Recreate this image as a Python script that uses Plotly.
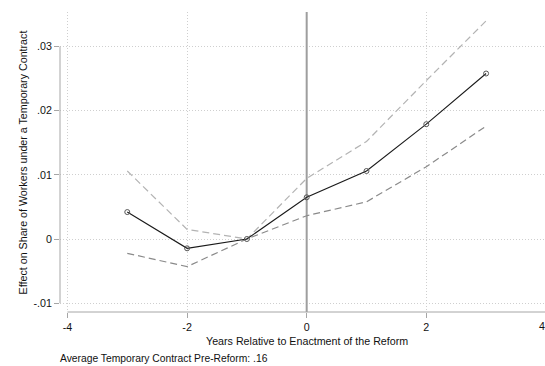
import plotly.graph_objects as go

# Event-study estimates: years relative to reform enactment
years = [-3, -2, -1, 0, 1, 2, 3]
effect = [0.0042, -0.00145, 0.0, 0.0065, 0.0106, 0.0179, 0.0258]
ci_upper = [0.0106, 0.0015, 0.0, 0.00945, 0.0152, 0.0247, 0.0340]
ci_lower = [-0.00223, -0.0043, 0.0, 0.00363, 0.0058, 0.01126, 0.0176]

x_ticks = [-4, -2, 0, 2, 4]
y_ticks = [-0.01, 0, 0.01, 0.02, 0.03]
y_tick_labels = ["-.01", "0", ".01", ".02", ".03"]

X_RANGE = [-4.125, 3.985]
Y_RANGE = [-0.01138, 0.03539]
REFORM_YEAR = 0

FONT = "Liberation Sans, Arial, sans-serif"
GRID = "#cfcfcf"
AXIS = "#a6a6a6"
TXT = dict(family=FONT, size=10.7, color="#111111")

fig = go.Figure()

# Reform enactment line, drawn first so the estimates sit on top of it
fig.add_trace(go.Scatter(
    x=[REFORM_YEAR, REFORM_YEAR], y=Y_RANGE, mode="lines",
    line=dict(color="#9e9e9e", width=2),
    showlegend=False, hoverinfo="skip", cliponaxis=True))

fig.add_trace(go.Scatter(
    x=years, y=ci_upper, mode="lines",
    line=dict(color="#b3b3b3", width=1.2, dash="7px,4px"),
    showlegend=False, hoverinfo="skip"))
fig.add_trace(go.Scatter(
    x=years, y=ci_lower, mode="lines",
    line=dict(color="#8a8a8a", width=1.2, dash="7px,4px"),
    showlegend=False, hoverinfo="skip"))
fig.add_trace(go.Scatter(
    x=years, y=effect, mode="lines+markers",
    line=dict(color="#1a1a1a", width=1.1),
    marker=dict(symbol="circle-open", size=5, color="#555555",
                line=dict(width=1, color="#555555")),
    showlegend=False))

# Axis lines spanning the tick range
fig.add_shape(type="line", xref="paper", yref="y", x0=0, x1=0,
              y0=y_ticks[0], y1=y_ticks[-1], line=dict(color=AXIS, width=1))
fig.add_shape(type="line", xref="x", yref="paper", x0=x_ticks[0], x1=x_ticks[-1],
              y0=0, y1=0, line=dict(color=AXIS, width=1))

# Tick label at the right end of the x range (sits past the plotted range)
fig.add_annotation(x=1.0035, y=0, xref="paper", yref="paper", yshift=-6,
                   yanchor="top", text="4", showarrow=False, font=TXT)

fig.add_annotation(x=0, xref="x", y=-0.095, yref="paper", yanchor="middle",
                   text="Years Relative to Enactment of the Reform",
                   showarrow=False, font=TXT)
fig.add_annotation(x=-0.092, xref="paper", y=0.50, yref="paper",
                   text="Effect on Share of Workers under a Temporary Contract",
                   textangle=-90, showarrow=False, font=TXT)
fig.add_annotation(x=-0.005, xref="paper", xanchor="left", y=-0.155, yref="paper",
                   yanchor="middle",
                   text="Average Temporary Contract Pre-Reform: .16",
                   showarrow=False, font=dict(family=FONT, size=10.3, color="#111111"))

fig.update_layout(
    width=545, height=366,
    margin=dict(l=60, r=0, t=12, b=54),
    paper_bgcolor="white", plot_bgcolor="white",
    font=TXT,
    xaxis=dict(range=X_RANGE, tickvals=x_ticks,
               ticktext=[str(v) for v in x_ticks],
               showgrid=True, gridcolor=GRID, griddash="1px,2px", gridwidth=1,
               zeroline=False, showline=False,
               ticks="outside", ticklen=5, tickcolor=AXIS),
    yaxis=dict(range=Y_RANGE, tickvals=y_ticks,
               ticktext=y_tick_labels,
               showgrid=True, gridcolor=GRID, griddash="1px,2px", gridwidth=1,
               zeroline=False, showline=False,
               ticks="outside", ticklen=5, tickcolor=AXIS),
)

fig.write_html("out.html")
